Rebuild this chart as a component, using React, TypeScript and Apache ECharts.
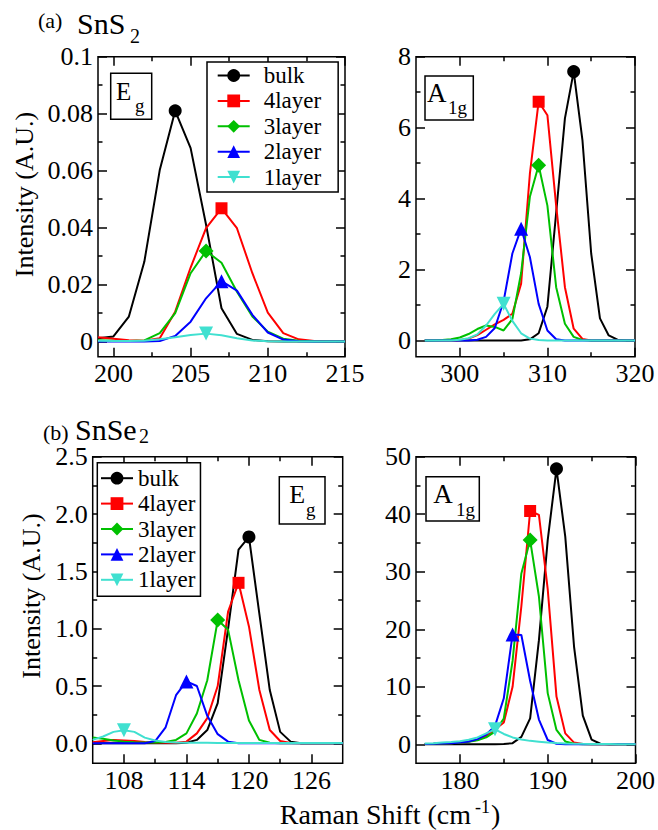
import React, { useEffect, useRef } from 'react';
import * as echarts from 'echarts';

const FONT = 'Liberation Serif';

const layerNames = ['bulk', '4layer', '3layer', '2layer', '1layer'];
const layerColors = ['#000000', '#ff0000', '#00c000', '#0000ff', '#40e0d0'];
const layerSymbols = ['circle', 'rect', 'diamond', 'triangle', 'path://M0,0L10,0L5,9Z'];
const layerSymbolSizes = [13, 12, 15, 14, 14];

// (a) SnS2, Eg mode
const snS2EgShift = [199, 200, 201, 202, 203, 204, 205, 206, 207, 208, 209, 210, 211, 212, 213, 214, 215];
const snS2EgBulk = [0.0012, 0.0018, 0.0088, 0.028, 0.0602, 0.081, 0.0679, 0.041, 0.0117, 0.0027, 0.0006, 0.0001, 0, 0, 0, 0, 0];
const snS2Eg4 = [0.0015, 0.001, 0.0005, 0.0003, 0.0012, 0.0105, 0.026, 0.0398, 0.0468, 0.0398, 0.024, 0.0102, 0.003, 0.0008, 0.0002, 0, 0];
const snS2Eg3 = [0.0005, 0.0003, 0.0002, 0.0004, 0.003, 0.01, 0.024, 0.0318, 0.0277, 0.0175, 0.0088, 0.0035, 0.001, 0.0003, 0.0001, 0, 0];
const snS2Eg2 = [0, 0, 0, 0, 0.0002, 0.002, 0.007, 0.0152, 0.0212, 0.0179, 0.0094, 0.0032, 0.0007, 0.0001, 0, 0, 0];
const snS2Eg1 = [0.0003, 0.0002, 0.0002, 0.0003, 0.0008, 0.0015, 0.0023, 0.0028, 0.0022, 0.0012, 0.0004, 0.0001, 0, 0, 0, 0, 0];

// (a) SnS2, A1g mode
const snS2A1gShift = [296, 297, 298, 299, 300, 301, 302, 303, 304, 305, 306, 307, 308, 309, 310, 311, 312, 313, 314, 315, 316, 317, 318, 319, 320];
const snS2A1gBulk = [0, 0, 0, 0, 0, 0, 0, 0, 0, 0, 0, 0, 0.03, 0.2, 0.95, 3.6, 6.26, 7.58, 5.65, 2.45, 0.62, 0.14, 0.02, 0, 0];
const snS2A1g4 = [0, 0, 0, 0, 0.01, 0.05, 0.15, 0.3, 0.45, 0.58, 0.75, 1.6, 4.7, 6.73, 6.35, 3.8, 1.5, 0.33, 0.04, 0, 0, 0, 0, 0, 0];
const snS2A1g3 = [0, 0, 0.01, 0.03, 0.08, 0.18, 0.32, 0.42, 0.38, 0.28, 0.6, 1.9, 4.05, 4.94, 3.8, 1.5, 0.47, 0.1, 0.01, 0, 0, 0, 0, 0, 0];
const snS2A1g2 = [0, 0, 0, 0, 0, 0, 0.02, 0.1, 0.35, 1.1, 2.45, 3.15, 2.35, 1.03, 0.28, 0.03, 0, 0, 0, 0, 0, 0, 0, 0, 0];
const snS2A1g1 = [0, 0, 0, 0, 0.02, 0.06, 0.17, 0.42, 0.75, 1.03, 0.55, 0.2, 0.05, 0.01, 0, 0, 0, 0, 0, 0, 0, 0, 0, 0, 0];

// (b) SnSe2, Eg mode
const snSe2EgShift = [105, 106, 107, 108, 109, 110, 111, 112, 113, 114, 115, 116, 117, 118, 119, 120, 121, 122, 123, 124, 125, 126, 127, 128, 129];
const snSe2EgBulk = [0, 0, 0, 0, 0, 0, 0, 0, 0, 0.005, 0.03, 0.116, 0.35, 1.0, 1.69, 1.8, 1.13, 0.465, 0.1, 0.015, 0, 0, 0, 0, 0];
const snSe2Eg4 = [0.01, 0.02, 0.03, 0.025, 0.02, 0.012, 0.008, 0.006, 0.006, 0.015, 0.087, 0.22, 0.5, 1.15, 1.4, 1.02, 0.465, 0.116, 0.02, 0.004, 0, 0, 0, 0, 0];
const snSe2Eg3 = [0.05, 0.04, 0.025, 0.015, 0.01, 0.008, 0.008, 0.012, 0.03, 0.087, 0.26, 0.55, 1.075, 0.99, 0.55, 0.2, 0.03, 0.005, 0, 0, 0, 0, 0, 0, 0];
const snSe2Eg2 = [0, 0, 0, 0, 0, 0, 0.02, 0.14, 0.42, 0.54, 0.5, 0.24, 0.08, 0.015, 0, 0, 0, 0, 0, 0, 0, 0, 0, 0, 0];
const snSe2Eg1 = [0.03, 0.06, 0.1, 0.115, 0.1, 0.05, 0.025, 0.012, 0.008, 0.006, 0.005, 0.005, 0.004, 0.004, 0.004, 0.003, 0.003, 0.003, 0.003, 0.002, 0.002, 0.002, 0.002, 0.002, 0.002];

// (b) SnSe2, A1g mode
const snSe2A1gShift = [176, 177, 178, 179, 180, 181, 182, 183, 184, 185, 186, 187, 188, 189, 190, 191, 192, 193, 194, 195, 196, 197, 198, 199, 200];
const snSe2A1gBulk = [0, 0, 0, 0, 0, 0, 0, 0, 0, 0.05, 0.2, 1.3, 4.5, 18.1, 35.5, 47.9, 36.1, 17, 5, 0.8, 0.1, 0.02, 0, 0, 0];
const snSe2A1g4 = [0.07, 0.1, 0.15, 0.2, 0.3, 0.5, 0.8, 1.4, 2.6, 3.8, 10, 24, 40.56, 39.9, 27, 8.3, 1.9, 0.3, 0.05, 0, 0, 0, 0, 0, 0];
const snSe2A1g3 = [0.07, 0.1, 0.15, 0.2, 0.3, 0.45, 0.7, 1.2, 2.2, 4.5, 14.5, 29.7, 35.5, 25.7, 8.9, 2.5, 0.5, 0.1, 0, 0, 0, 0, 0, 0, 0];
const snSe2A1g2 = [0.07, 0.1, 0.15, 0.2, 0.3, 0.5, 0.9, 1.7, 3.2, 8, 19.1, 19, 11, 4.3, 0.75, 0.1, 0, 0, 0, 0, 0, 0, 0, 0, 0];
const snSe2A1g1 = [0.15, 0.2, 0.3, 0.4, 0.55, 0.8, 1.2, 1.9, 2.6, 1.8, 1.2, 0.85, 0.6, 0.45, 0.3, 0.22, 0.16, 0.12, 0.09, 0.07, 0.05, 0.04, 0.03, 0.03, 0.02];

// axis ticks
const aEgXMajor = [200, 205, 210, 215];
const aEgXMinor = [202.5, 207.5, 212.5];
const aEgYMajor = [0, 0.02, 0.04, 0.06, 0.08, 0.1];
const aEgYMinor = [0.01, 0.03, 0.05, 0.07, 0.09];
const aA1gXMajor = [300, 310, 320];
const aA1gXMinor = [305, 315];
const aA1gYMajor = [0, 2, 4, 6, 8];
const aA1gYMinor = [1, 3, 5, 7];
const bEgXMajor = [108, 114, 120, 126];
const bEgXMinor = [111, 117, 123];
const bEgYMajor = [0, 0.5, 1.0, 1.5, 2.0, 2.5];
const bEgYMinor = [0.25, 0.75, 1.25, 1.75, 2.25];
const bA1gXMajor = [180, 190, 200];
const bA1gXMinor = [185, 195];
const bA1gYMajor = [0, 10, 20, 30, 40, 50];
const bA1gYMinor = [5, 15, 25, 35, 45];

type Panel = {
  grid: { left: number; top: number; width: number; height: number };
  xMin: number; xMax: number; xMajor: number[]; xMinor: number[];
  yMin: number; yMax: number; yMajor: number[]; yMinor: number[];
  yFmt: (v: number) => string;
  shift: number[];
  series: number[][];
};

const panels: Panel[] = [
  {
    grid: { left: 98, top: 56.7, width: 247, height: 300 },
    xMin: 199, xMax: 215, xMajor: aEgXMajor, xMinor: aEgXMinor,
    yMin: -0.0053, yMax: 0.1, yMajor: aEgYMajor, yMinor: aEgYMinor,
    yFmt: (v) => (v === 0 ? '0' : String(+v.toFixed(2))),
    shift: snS2EgShift,
    series: [snS2EgBulk, snS2Eg4, snS2Eg3, snS2Eg2, snS2Eg1],
  },
  {
    grid: { left: 416, top: 56.7, width: 219, height: 300 },
    xMin: 295, xMax: 320, xMajor: aA1gXMajor, xMinor: aA1gXMinor,
    yMin: -0.46, yMax: 8, yMajor: aA1gYMajor, yMinor: aA1gYMinor,
    yFmt: (v) => String(v),
    shift: snS2A1gShift,
    series: [snS2A1gBulk, snS2A1g4, snS2A1g3, snS2A1g2, snS2A1g1],
  },
  {
    grid: { left: 92.7, top: 456.7, width: 250, height: 306.6 },
    xMin: 105, xMax: 129, xMajor: bEgXMajor, xMinor: bEgXMinor,
    yMin: -0.174, yMax: 2.5, yMajor: bEgYMajor, yMinor: bEgYMinor,
    yFmt: (v) => v.toFixed(1),
    shift: snSe2EgShift,
    series: [snSe2EgBulk, snSe2Eg4, snSe2Eg3, snSe2Eg2, snSe2Eg1],
  },
  {
    grid: { left: 416, top: 456.7, width: 222.3, height: 306.6 },
    xMin: 175, xMax: 200, xMajor: bA1gXMajor, xMinor: bA1gXMinor,
    yMin: -3.3, yMax: 50, yMajor: bA1gYMajor, yMinor: bA1gYMinor,
    yFmt: (v) => String(v),
    shift: snSe2A1gShift,
    series: [snSe2A1gBulk, snSe2A1g4, snSe2A1g3, snSe2A1g2, snSe2A1g1],
  },
];

function makeAxes(dim: 'x' | 'y', gridIndex: number, min: number, max: number, majors: number[], minors: number[], fmt: (v: number) => string) {
  const pos = dim === 'x' ? ['bottom', 'top'] : ['left', 'right'];
  const base = {
    type: 'value', gridIndex, min, max,
    splitLine: { show: false },
    axisLine: { show: false, onZero: false },
    axisPointer: { show: false },
    silent: true,
  };
  const tick = (len: number, vals: number[]) => ({
    show: true, inside: true, length: len, customValues: vals,
    lineStyle: { color: '#000', width: 1.5 },
  });
  return [
    {
      ...base, position: pos[0], axisTick: tick(9, majors),
      axisLabel: {
        show: true, customValues: majors, formatter: fmt,
        margin: dim === 'x' ? 4 : 5, color: '#000', fontSize: 26, fontFamily: FONT,
      },
    },
    { ...base, position: pos[0], axisTick: tick(4.5, minors), axisLabel: { show: false } },
    { ...base, position: pos[1], axisTick: tick(9, majors), axisLabel: { show: false } },
    { ...base, position: pos[1], axisTick: tick(4.5, minors), axisLabel: { show: false } },
  ];
}

function txt(text: string, x: number, y: number, size: number, align = 'left', extra: any = {}) {
  return {
    type: 'text', x, y, z: 20, silent: true, ...extra,
    style: {
      text, fontSize: size, fontFamily: FONT, fill: '#000',
      align, textAlign: align, verticalAlign: 'middle', textVerticalAlign: 'middle',
    },
  };
}

function box(x: number, y: number, w: number, h: number) {
  return {
    type: 'rect', z: 15, silent: true,
    shape: { x, y, width: w, height: h },
    style: { fill: '#ffffff', stroke: '#000', lineWidth: 1.5 },
  };
}

function buildOption() {
  const grids: any[] = [];
  const xAxes: any[] = [];
  const yAxes: any[] = [];
  const series: any[] = [];
  panels.forEach((p, g) => {
    grids.push({ ...p.grid, show: true, borderColor: '#000', borderWidth: 1.5, backgroundColor: 'transparent' });
    xAxes.push(...makeAxes('x', g, p.xMin, p.xMax, p.xMajor, p.xMinor, (v) => String(v)));
    yAxes.push(...makeAxes('y', g, p.yMin, p.yMax, p.yMajor, p.yMinor, p.yFmt));
    p.series.forEach((vals, k) => {
      let peak = 0;
      vals.forEach((v, i) => { if (v > vals[peak]) peak = i; });
      series.push({
        type: 'line', name: layerNames[k],
        xAxisIndex: g * 4, yAxisIndex: g * 4,
        symbol: layerSymbols[k], symbolSize: layerSymbolSizes[k],
        showSymbol: true,
        lineStyle: { color: layerColors[k], width: 2 },
        itemStyle: { color: layerColors[k] },
        emphasis: { disabled: true },
        z: 2 + k,
        data: p.shift.map((x, i) => (i === peak ? [x, vals[i]] : { value: [x, vals[i]], symbol: 'none' })),
      });
    });
  });

  const legendBase = {
    orient: 'vertical', itemWidth: 32, itemHeight: 16, itemGap: 2.4,
    borderColor: '#000', borderWidth: 1.5, borderRadius: 0,
    backgroundColor: '#ffffff', selectedMode: false, z: 30,
    data: layerNames,
  };

  return {
    animation: false,
    textStyle: { fontFamily: FONT },
    grid: grids,
    xAxis: xAxes,
    yAxis: yAxes,
    series,
    legend: [
      {
        ...legendBase, left: 207, top: 62, padding: [2, 17, 3.5, 9.7],
        textStyle: { fontFamily: FONT, fontSize: 23, color: '#000', padding: [0, 0, 0, 9] },
      },
      {
        ...legendBase, left: 97.3, top: 462.7, padding: [4, 5, 5, 2.7],
        textStyle: { fontFamily: FONT, fontSize: 23, color: '#000' },
      },
    ],
    graphic: [
      // panel titles
      txt('(a)', 38, 20, 22),
      txt('SnS', 77, 23, 30),
      txt('2', 130, 36, 20),
      txt('(b)', 43, 432, 22),
      txt('SnSe', 75, 429.5, 30),
      txt('2', 139, 436, 20),
      // y axis titles
      txt('Intensity (A.U.)', 24, 194.5, 26, 'center', { rotation: Math.PI / 2 }),
      txt('Intensity (A.U.)', 31, 596, 26, 'center', { rotation: Math.PI / 2 }),
      // x axis title
      txt('Raman Shift (cm', 471, 814.5, 28, 'right'),
      txt('-1', 475, 807, 18),
      txt(')', 491, 814.5, 28),
      // mode labels
      box(110.7, 73.3, 41, 46),
      txt('E', 116, 91.7, 25),
      txt('g', 135, 105.3, 19),
      box(425, 76, 48.3, 44),
      txt('A', 427, 92.5, 27),
      txt('1g', 448, 107.8, 19),
      box(279.3, 476.7, 45.7, 47.3),
      txt('E', 289.3, 494.7, 26),
      txt('g', 306, 509, 19),
      box(426, 476.7, 53.3, 44.3),
      txt('A', 433.3, 494, 27),
      txt('1g', 456, 509.5, 19),
    ],
  };
}

export default function App() {
  const ref = useRef<HTMLDivElement>(null);
  useEffect(() => {
    if (!ref.current) return;
    const chart = echarts.init(ref.current, undefined, { renderer: 'svg' });
    chart.setOption(buildOption() as any);
    return () => chart.dispose();
  }, []);
  return (
    <div
      ref={ref}
      style={{ position: 'fixed', left: 0, top: 0, width: 658, height: 830, background: '#ffffff' }}
    />
  );
}
